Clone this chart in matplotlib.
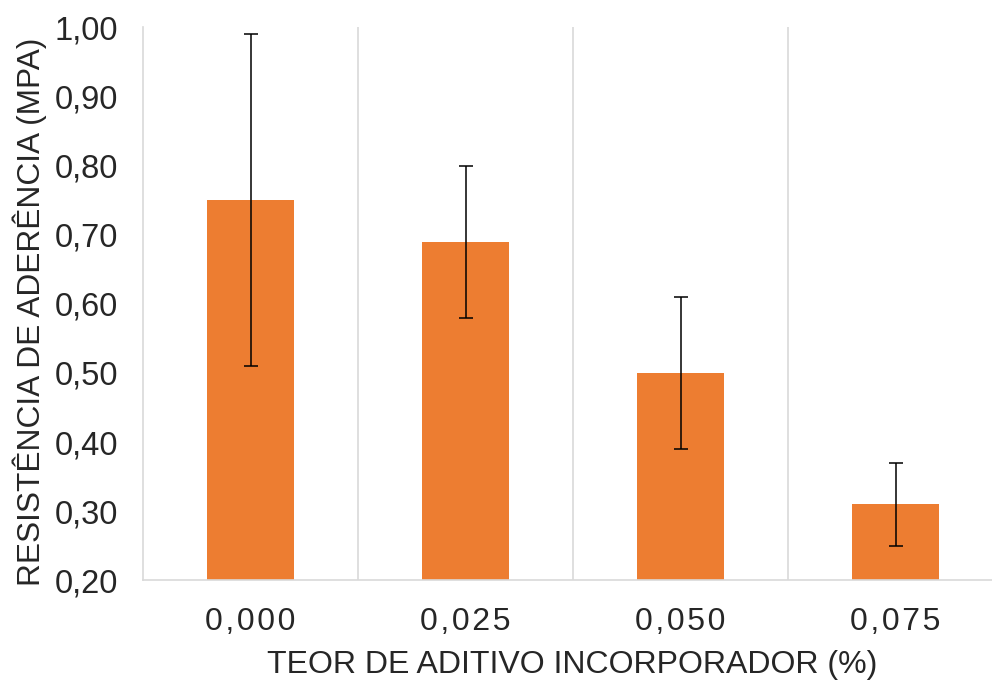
import matplotlib
matplotlib.use("Agg")
import matplotlib.pyplot as plt
import numpy as np

categories = ["0,000", "0,025", "0,050", "0,075"]
values = [0.75, 0.69, 0.50, 0.31]
err_low = [0.24, 0.11, 0.11, 0.06]
err_high = [0.24, 0.11, 0.11, 0.06]
yticks = [0.20, 0.30, 0.40, 0.50, 0.60, 0.70, 0.80, 0.90, 1.00]

plt.rcParams['font.family'] = ['Liberation Sans', 'DejaVu Sans']

fig = plt.figure(figsize=(9.92, 6.82), dpi=100)
ax = fig.add_axes([143/992, 101.7/682, 860/992, 553/682])

x = np.arange(len(categories))
ax.bar(x, values, width=0.405, color="#ED7D31", zorder=2)
ax.errorbar(x, values, yerr=[err_low, err_high], fmt="none", ecolor="black",
            elinewidth=1.1, capsize=5, capthick=1.1, zorder=3)

ax.set_xlim(-0.5, len(categories) - 0.5)
ax.set_ylim(0.2, 1.0)
ax.set_yticks(yticks)
ax.set_yticklabels([f"{v:.2f}".replace(".", ",") for v in yticks])
ax.set_xticks(x)
ax.set_xticklabels(["\u200a".join(c) for c in categories])

for b in np.arange(0.5, len(categories) - 0.5, 1.0):
    ax.axvline(b, color="#D9D9D9", lw=1.2, zorder=1)

for s in ["top", "right"]:
    ax.spines[s].set_visible(False)
for s in ["left", "bottom"]:
    ax.spines[s].set_color("#D9D9D9")
    ax.spines[s].set_linewidth(1.2)

ax.tick_params(axis="y", length=0, pad=18, labelsize=23.5, labelcolor="#262626")
ax.tick_params(axis="x", length=0, pad=19, labelsize=23, labelcolor="#262626")

fig.text(30/992, 1 - 312/682, "RESISTÊNCIA DE ADERÊNCIA (MPA)", rotation=90,
         ha="center", va="center", fontsize=22.8, color="#262626")
fig.text(572.5/992, 1 - 665/682, "TEOR DE ADITIVO INCORPORADOR (%)",
         ha="center", va="center", fontsize=23, color="#262626")

fig.savefig("out.png", dpi=100)
